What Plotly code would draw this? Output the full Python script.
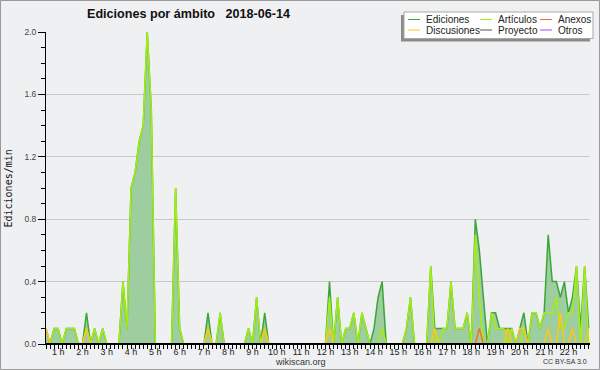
import plotly.graph_objects as go

# ---------------- data (10-minute bins, edits per minute) ----------------
START_HOUR = 0.5          # first bin at 00:30
BIN_MIN = 10              # minutes per bin

ediciones = [
    0.1, 0, 0.1, 0.1, 0, 0.1, 0.1, 0.1, 0, 0,
    0.2, 0, 0.1, 0, 0.1, 0, 0, 0, 0, 0.4,
    0.1, 1.0, 1.1, 1.3, 1.4, 2.0, 1.5, 0, 0, 0,
    0, 0, 1.0, 0.1, 0, 0, 0, 0, 0, 0,
    0.2, 0, 0, 0.2, 0, 0, 0, 0, 0, 0,
    0.1, 0, 0.3, 0, 0.2, 0, 0, 0, 0, 0,
    0, 0, 0, 0, 0, 0, 0, 0, 0, 0,
    0.4, 0, 0.3, 0, 0.1, 0.1, 0.2, 0, 0.2, 0.1,
    0, 0.1, 0.3, 0.4, 0, 0, 0, 0, 0, 0.1,
    0.3, 0, 0, 0, 0, 0.5, 0.1, 0.1, 0.1, 0.1,
    0.4, 0.1, 0.1, 0.1, 0.2, 0, 0.8, 0.6, 0.3, 0,
    0.2, 0.2, 0.1, 0.1, 0.1, 0.1, 0, 0.1, 0.2, 0,
    0.2, 0.2, 0.1, 0.2, 0.7, 0.4, 0.4, 0.3, 0.4, 0.2,
    0.3, 0.5, 0.1, 0.5, 0.1,
]

articulos = [
    0, 0, 0.1, 0.1, 0, 0.1, 0.1, 0.1, 0, 0,
    0.1, 0, 0.1, 0, 0.1, 0, 0, 0, 0, 0.4,
    0.1, 1.0, 1.1, 1.3, 1.4, 2.0, 1.5, 0, 0, 0,
    0, 0, 1.0, 0.1, 0, 0, 0, 0, 0, 0,
    0.1, 0, 0, 0.2, 0, 0, 0, 0, 0, 0,
    0.1, 0, 0.3, 0, 0.1, 0, 0, 0, 0, 0,
    0, 0, 0, 0, 0, 0, 0, 0, 0, 0,
    0.3, 0, 0.3, 0, 0.1, 0.1, 0.2, 0, 0.2, 0.1,
    0, 0, 0, 0.1, 0, 0, 0, 0, 0, 0.1,
    0.3, 0, 0, 0, 0, 0.5, 0, 0, 0.1, 0.1,
    0.4, 0.1, 0.1, 0.1, 0.2, 0, 0.7, 0.3, 0, 0,
    0.2, 0.1, 0.1, 0.1, 0, 0.1, 0, 0, 0.1, 0,
    0.2, 0.2, 0.1, 0.2, 0.2, 0.2, 0.3, 0.1, 0.1, 0.2,
    0.2, 0.5, 0, 0.5, 0,
]

discusiones = [
    0.1, 0, 0, 0, 0, 0, 0, 0, 0, 0,
    0.1, 0, 0, 0, 0, 0, 0, 0, 0, 0,
    0, 0, 0, 0, 0, 0, 0, 0, 0, 0,
    0, 0, 0, 0, 0, 0, 0, 0, 0, 0,
    0.1, 0, 0, 0, 0, 0, 0, 0, 0, 0,
    0, 0, 0, 0, 0.1, 0, 0, 0, 0, 0,
    0, 0, 0, 0, 0, 0, 0, 0, 0, 0,
    0.1, 0, 0, 0, 0, 0, 0, 0, 0, 0,
    0, 0, 0, 0, 0, 0, 0, 0, 0, 0,
    0, 0, 0, 0, 0, 0, 0.1, 0, 0, 0,
    0, 0, 0, 0, 0, 0, 0, 0, 0, 0,
    0, 0, 0, 0, 0.1, 0, 0, 0.1, 0.1, 0,
    0, 0, 0, 0, 0.1, 0, 0, 0.2, 0, 0,
    0.1, 0, 0, 0, 0.1,
]

anexos = [
    0, 0, 0, 0, 0, 0, 0, 0, 0, 0,
    0, 0, 0, 0, 0, 0, 0, 0, 0, 0,
    0, 0, 0, 0, 0, 0, 0, 0, 0, 0,
    0, 0, 0, 0, 0, 0, 0, 0, 0, 0,
    0, 0, 0, 0, 0, 0, 0, 0, 0, 0,
    0, 0, 0, 0, 0, 0, 0, 0, 0, 0,
    0, 0, 0, 0, 0, 0, 0, 0, 0, 0,
    0, 0, 0, 0, 0, 0, 0, 0, 0, 0,
    0, 0, 0, 0, 0, 0, 0, 0, 0, 0,
    0, 0, 0, 0, 0, 0, 0, 0, 0, 0,
    0, 0, 0, 0, 0, 0, 0, 0.1, 0, 0,
    0, 0, 0, 0, 0, 0, 0, 0, 0, 0,
    0, 0, 0, 0, 0, 0, 0, 0, 0, 0,
    0, 0, 0, 0, 0,
]

proyecto = [
    0, 0, 0, 0, 0, 0, 0, 0, 0, 0,
    0, 0, 0, 0, 0, 0, 0, 0, 0, 0,
    0, 0, 0, 0, 0, 0, 0, 0, 0, 0,
    0, 0, 0, 0, 0, 0, 0, 0, 0, 0,
    0, 0, 0, 0, 0, 0, 0, 0, 0, 0,
    0, 0, 0, 0, 0, 0, 0, 0, 0, 0,
    0, 0, 0, 0, 0, 0, 0, 0, 0, 0,
    0, 0, 0, 0, 0, 0, 0, 0, 0, 0,
    0, 0, 0, 0, 0, 0, 0, 0, 0, 0,
    0, 0, 0, 0, 0, 0, 0, 0, 0, 0,
    0, 0, 0, 0, 0, 0, 0, 0, 0, 0,
    0, 0, 0, 0, 0, 0, 0, 0, 0, 0,
    0, 0, 0, 0, 0, 0, 0, 0, 0, 0,
    0, 0, 0, 0, 0,
]

otros = [
    0, 0, 0, 0, 0, 0, 0, 0, 0, 0,
    0, 0, 0, 0, 0, 0, 0, 0, 0, 0,
    0, 0, 0, 0, 0, 0, 0, 0, 0, 0,
    0, 0, 0, 0, 0, 0, 0, 0, 0, 0,
    0, 0, 0, 0, 0, 0, 0, 0, 0, 0,
    0, 0, 0, 0, 0, 0, 0, 0, 0, 0,
    0, 0, 0, 0, 0, 0, 0, 0, 0, 0,
    0, 0, 0, 0, 0, 0, 0, 0, 0, 0,
    0, 0, 0, 0, 0, 0, 0, 0, 0, 0,
    0, 0, 0, 0, 0, 0, 0, 0, 0, 0,
    0, 0, 0, 0, 0, 0, 0, 0, 0, 0,
    0, 0, 0, 0, 0, 0, 0, 0, 0, 0,
    0, 0, 0, 0, 0, 0, 0, 0, 0, 0,
    0, 0, 0, 0, 0,
]

hour_ticks = [1, 2, 3, 4, 5, 6, 7, 8, 9, 10, 11, 12, 13, 14, 15, 16, 17, 18, 19, 20, 21, 22]
hour_labels = ["1 h", "2 h", "3 h", "4 h", "5 h", "6 h", "7 h", "8 h", "9 h", "10 h", "11 h",
               "12 h", "13 h", "14 h", "15 h", "16 h", "17 h", "18 h", "19 h", "20 h", "21 h", "22 h"]
y_ticks = [0.0, 0.4, 0.8, 1.2, 1.6, 2.0]
y_labels = ["0.0", "0.4", "0.8", "1.2", "1.6", "2.0"]

series_names = ["Ediciones", "Artículos", "Anexos", "Discusiones", "Proyecto", "Otros"]
title_text = "Ediciones por ámbito   2018-06-14"

# ---------------- styling ----------------
W, H = 600, 370
ML, MR, MT, MB = 46, 10, 32, 26
PW, PH = W - ML - MR, H - MT - MB
BG = "#eff0f2"
FONT = "Liberation Sans, Arial, sans-serif"

C_ED = "#3ca53c"
C_ED_FILL = "#9ecd9f"
C_ART = "#a4ee10"
C_DISC = "#ffc61a"
C_ANEX = "#ff6a2a"
C_PROY = "#555555"
C_OTROS = "#9b4dff"

hours = [START_HOUR + i * BIN_MIN / 60 for i in range(len(ediciones))]
x_end = START_HOUR + PW / 24.3   # axis span in hours


def px(xp):
    return (xp - ML) / PW


def py(yp):
    return (MT + PH - yp) / PH


fig = go.Figure()
fig.add_trace(go.Scatter(x=hours, y=ediciones, mode="lines", name=series_names[0],
                         line=dict(color=C_ED, width=1.5), fill="tozeroy",
                         fillcolor=C_ED_FILL, showlegend=False))
for name, vals, col in [("Artículos", articulos, C_ART), ("Anexos", anexos, C_ANEX),
                        ("Discusiones", discusiones, C_DISC), ("Proyecto", proyecto, C_PROY),
                        ("Otros", otros, C_OTROS)]:
    fig.add_trace(go.Scatter(x=hours, y=vals, mode="lines", name=name,
                             line=dict(color=col, width=1.5), showlegend=False))

fig.update_layout(
    width=W, height=H, autosize=False,
    margin=dict(l=ML, r=MR, t=MT, b=MB, pad=0),
    paper_bgcolor=BG, plot_bgcolor=BG,
    font=dict(family=FONT, size=9, color="#333333"),
    showlegend=False,
)
fig.update_xaxes(
    range=[START_HOUR, x_end], showgrid=False, zeroline=False,
    showline=True, linecolor="#000000", linewidth=1, layer="above traces",
    tickmode="array", tickvals=hour_ticks, ticktext=hour_labels,
    ticks="outside", ticklen=4, tickwidth=1, tickcolor="#000000",
    ticklabelstandoff=-5,
    tickfont=dict(family=FONT, size=9, color="#222222"),
    minor=dict(ticks="outside", ticklen=4, tickwidth=1, tickcolor="#000000",
               tick0=START_HOUR, dtick=BIN_MIN / 60, showgrid=False),
)
fig.update_yaxes(
    range=[0, 2.0], showgrid=True, gridcolor="#c8c8c8", gridwidth=1, zeroline=False,
    showline=True, linecolor="#000000", linewidth=1, layer="above traces",
    tickmode="array", tickvals=y_ticks, ticktext=y_labels,
    ticks="outside", ticklen=7, tickwidth=1, tickcolor="#000000",
    tickfont=dict(family=FONT, size=8.5, color="#444444"),
    minor=dict(ticks="outside", ticklen=4, tickwidth=1, tickcolor="#000000",
               tick0=0, dtick=0.1, showgrid=False),
)

shapes = []
annotations = []

# baseline (covers zero-valued series lines, like the reference's black axis)
shapes.append(dict(type="line", xref="paper", yref="paper", x0=0, x1=1, y0=0, y1=0,
                   line=dict(color="#000000", width=2), layer="above"))

# outer border
shapes.append(dict(type="rect", xref="paper", yref="paper",
                   x0=px(0.5), x1=px(599.5), y0=py(0.5), y1=py(369.5),
                   line=dict(color="#9a9a9a", width=1), fillcolor="rgba(0,0,0,0)", layer="above"))

# title
annotations.append(dict(text=title_text, xref="paper", yref="paper",
                        x=px(85), y=py(14), xanchor="left", yanchor="middle",
                        showarrow=False, font=dict(family=FONT, size=12.6, color="#111111", weight="bold")))
# y-axis title
annotations.append(dict(text="Ediciones/min", xref="paper", yref="paper",
                        x=px(7.5), y=py(189), xanchor="center", yanchor="middle", textangle=-90,
                        showarrow=False, font=dict(family="DejaVu Sans Mono, monospace", size=10, color="#111111")))
# footer
annotations.append(dict(text="wikiscan.org", xref="paper", yref="paper",
                        x=px(300.5), y=py(361.5), xanchor="center", yanchor="middle",
                        showarrow=False, font=dict(family=FONT, size=9, color="#333333")))
annotations.append(dict(text="CC BY-SA 3.0", xref="paper", yref="paper",
                        x=px(589), y=py(361.5), xanchor="right", yanchor="middle",
                        showarrow=False, font=dict(family=FONT, size=7, color="#333333")))

# legend box (shadow + box)
shapes.append(dict(type="rect", xref="paper", yref="paper",
                   x0=px(401), x1=px(590), y0=py(41.5), y1=py(15),
                   line=dict(width=0), fillcolor="#8a8a8a", layer="above"))
shapes.append(dict(type="rect", xref="paper", yref="paper",
                   x0=px(404), x1=px(593), y0=py(38.5), y1=py(12),
                   line=dict(color="#a8a8a8", width=1), fillcolor="#ffffff", layer="above"))
legend_items = [
    ("Ediciones", C_ED, 408, 19.5), ("Artículos", C_ART, 480, 19.5), ("Anexos", C_ANEX, 540, 19.5),
    ("Discusiones", C_DISC, 408, 30), ("Proyecto", C_PROY, 480, 30), ("Otros", C_OTROS, 540, 30),
]
for name, col, x0, yy in legend_items:
    shapes.append(dict(type="line", xref="paper", yref="paper",
                       x0=px(x0), x1=px(x0 + 12), y0=py(yy), y1=py(yy),
                       line=dict(color=col, width=1), layer="above"))
    annotations.append(dict(text=name, xref="paper", yref="paper",
                            x=px(x0 + 16), y=py(yy), xanchor="left", yanchor="middle",
                            showarrow=False, font=dict(family=FONT, size=10, color="#222222")))

fig.update_layout(shapes=shapes, annotations=annotations)
fig.write_html("out.html", config={"displayModeBar": False},
               post_script="document.body.style.margin='0';document.body.style.overflow='hidden';")
